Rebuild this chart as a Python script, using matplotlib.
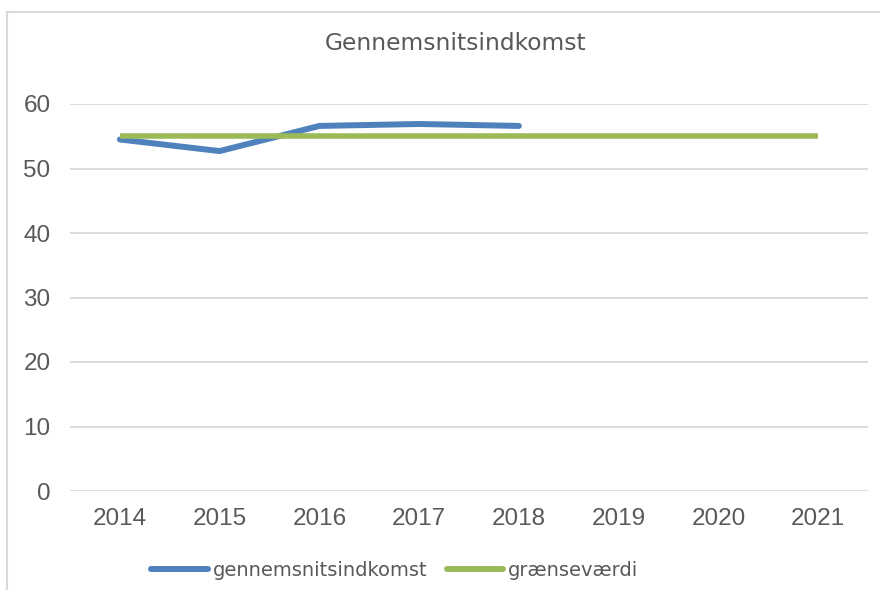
import matplotlib
matplotlib.use("Agg")
import matplotlib.pyplot as plt
from matplotlib.patches import Rectangle

years = ["2014", "2015", "2016", "2017", "2018", "2019", "2020", "2021"]
avg_income = [54.5, 52.7, 56.6, 56.9, 56.6]
threshold = [55, 55, 55, 55, 55, 55, 55, 55]
yticks = [0, 10, 20, 30, 40, 50, 60]

fig = plt.figure(figsize=(8.8, 5.9), dpi=100)
fig.patches.append(Rectangle((7/880, -0.1), 1.2, 1 - 12/590 + 0.1, transform=fig.transFigure,
                             fill=False, edgecolor="#D9D9D9", linewidth=1.5, zorder=0))
ax = fig.add_axes([70/880, 1 - 491/590, 798/880, (491 - 104)/590])

x = list(range(len(years)))
ax.plot(x[:len(avg_income)], avg_income, color="#4F81BD", linewidth=4.3,
        solid_capstyle="round", solid_joinstyle="round", label="gennemsnitsindkomst", zorder=3)
ax.plot(x, threshold, color="#9BBB59", linewidth=4.0,
        solid_capstyle="butt", label="grænseværdi", zorder=4)

ax.set_xlim(-0.5, len(years) - 0.5)
ax.set_ylim(0, 60)
ax.set_yticks(yticks)
ax.set_xticks(x)
ax.set_xticklabels(years)
for s in ax.spines.values():
    s.set_visible(False)
ax.yaxis.grid(True, color="#D9D9D9", linewidth=1.3)
ax.set_axisbelow(True)
ax.tick_params(axis="both", length=0, colors="#595959", labelsize=17.5)
ax.tick_params(axis="y", pad=14)
ax.tick_params(axis="x", pad=12)
for lbl in ax.get_xticklabels() + ax.get_yticklabels():
    lbl.set_fontfamily("Liberation Sans")

fig.text(456/880, 1 - 43/590, "Gennemsnitsindkomst", ha="center", va="center",
         fontsize=16.8, color="#595959", family="DejaVu Sans")

leg = fig.legend(loc="center", bbox_to_anchor=(395/880, 1 - 570/590), ncol=2, frameon=False,
                 prop={"family": "DejaVu Sans", "size": 14}, handlelength=2.9,
                 handletextpad=0.26, columnspacing=1.0, borderpad=0, borderaxespad=0)
for t in leg.get_texts():
    t.set_color("#595959")
for h in leg.get_lines():
    h.set_solid_capstyle("round")
    h.set_linewidth(4.3)

fig.savefig("out.png", dpi=100)
